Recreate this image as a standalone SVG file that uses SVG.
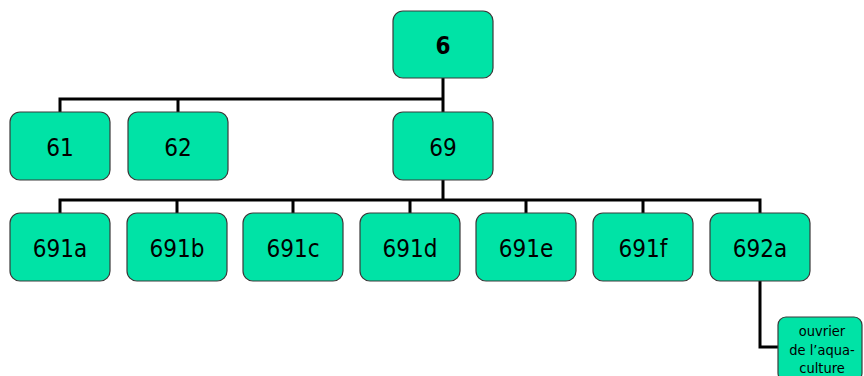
<svg xmlns="http://www.w3.org/2000/svg" width="864" height="376" viewBox="0 0 864 376">
<style>
.n rect{fill:#00E3A6;stroke:#3a3a3a;stroke-width:1.2}
.n text{font-family:"DejaVu Sans Condensed","DejaVu Sans",Verdana,sans-serif;font-stretch:condensed;font-size:24px;fill:#000;text-anchor:middle}
.n text.s{font-size:14.5px}
.c{fill:none;stroke:#000;stroke-width:3}
</style>
<rect width="864" height="376" fill="#fff"/>
<g id="connectors" class="c">
<path d="M443 78V112M60 112V99H443"/>
<path d="M178 112V99"/>
<path d="M443 180V200M60 213V200H760V213"/>
<path d="M177 200V213M293 200V213M410 200V213M526 200V213M643 200V213"/>
<path d="M760 281V347H779"/>
</g>
<g id="n6" class="n"><rect x="393" y="11" width="100" height="67" rx="10"/><text x="443" y="54" font-weight="bold">6</text></g>
<g id="n61" class="n"><rect x="10" y="112" width="100" height="68" rx="10"/><text x="60" y="156">61</text></g>
<g id="n62" class="n"><rect x="128" y="112" width="100" height="68" rx="10"/><text x="178" y="156">62</text></g>
<g id="n69" class="n"><rect x="393" y="112" width="100" height="68" rx="10"/><text x="443" y="156">69</text></g>
<g id="n691a" class="n"><rect x="10" y="213" width="100" height="68" rx="10"/><text x="60" y="257">691a</text></g>
<g id="n691b" class="n"><rect x="127" y="213" width="100" height="68" rx="10"/><text x="177" y="257">691b</text></g>
<g id="n691c" class="n"><rect x="243" y="213" width="100" height="68" rx="10"/><text x="293" y="257">691c</text></g>
<g id="n691d" class="n"><rect x="360" y="213" width="100" height="68" rx="10"/><text x="410" y="257">691d</text></g>
<g id="n691e" class="n"><rect x="476" y="213" width="100" height="68" rx="10"/><text x="526" y="257">691e</text></g>
<g id="n691f" class="n"><rect x="593" y="213" width="100" height="68" rx="10"/><text x="643" y="257">691f</text></g>
<g id="n692a" class="n"><rect x="710" y="213" width="100" height="68" rx="10"/><text x="760" y="257">692a</text></g>
<g id="nouvrier" class="n"><rect x="778" y="317" width="84" height="64" rx="8"/>
<text class="s" x="822" y="336">ouvrier</text>
<text class="s" x="822" y="355">de l’aqua-</text>
<text class="s" x="822" y="373">culture</text></g>
</svg>
